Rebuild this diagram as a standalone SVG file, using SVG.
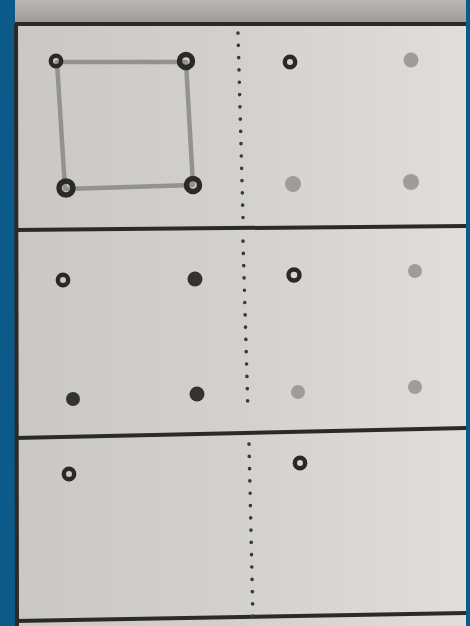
<svg xmlns="http://www.w3.org/2000/svg" width="470" height="626" viewBox="0 0 470 626">
<defs>
<linearGradient id="paper" x1="0" y1="0" x2="1" y2="0">
<stop offset="0" stop-color="#cac8c5"/>
<stop offset="0.5" stop-color="#d3d1ce"/>
<stop offset="1" stop-color="#e1deda"/>
</linearGradient>
<linearGradient id="strip" x1="0" y1="0" x2="0" y2="1">
<stop offset="0" stop-color="#b9b8b6"/>
<stop offset="1" stop-color="#9c9b99"/>
</linearGradient>
</defs>
<style>
.rule{stroke:#2b2a29;stroke-width:4;fill:none}
.dots{stroke:#3a3938;stroke-width:3.6;stroke-dasharray:0.1 12.2;stroke-linecap:round;fill:none}
.ring{fill:none;stroke:#2a2928;stroke-width:4.4}
.big{stroke-width:5.5}
.dark{fill:#343332}
.grey{fill:#9e9d9b}
.edge{stroke:#939290;stroke-width:4.5;fill:none;stroke-linejoin:round}
</style>
<rect width="470" height="626" fill="#0b5a8a"/>
<rect x="15" y="0" width="451" height="626" fill="url(#paper)"/>
<rect x="15" y="0" width="451" height="23" fill="url(#strip)"/>
<g id="rules">
<line class="rule" x1="15" y1="24" x2="466" y2="24"/>
<line class="rule" x1="15" y1="230" x2="466" y2="226"/>
<line class="rule" x1="15" y1="438" x2="466" y2="428"/>
<line class="rule" x1="15" y1="621" x2="466" y2="613"/>
<line class="rule" x1="16" y1="24" x2="17" y2="626" stroke-width="3"/>
</g>
<g id="dividers">
<line class="dots" x1="238" y1="33" x2="243" y2="218"/>
<line class="dots" x1="243" y1="241" x2="248" y2="413"/>
<line class="dots" x1="249" y1="444" x2="253" y2="620"/>
</g>
<g id="connectors">
<polygon class="edge" points="57,62 186,62 193,185 65,189"/>
</g>
<g id="panel1-left">
<circle class="ring" cx="56" cy="61" r="5.2"/>
<circle class="ring big" cx="186" cy="61" r="6.5"/>
<circle class="ring big" cx="66" cy="188" r="7"/>
<circle class="ring big" cx="193" cy="185" r="6.5"/>
</g>
<g id="panel1-right">
<circle class="ring" cx="290" cy="62" r="5.2"/>
<circle class="grey" cx="411" cy="60" r="7.5" fill="#a9a8a6"/>
<circle class="grey" cx="293" cy="184" r="8"/>
<circle class="grey" cx="411" cy="182" r="8"/>
</g>
<g id="panel2-left">
<circle class="ring" cx="63" cy="280" r="5.2"/>
<circle class="dark" cx="195" cy="279" r="7.5"/>
<circle class="dark" cx="73" cy="399" r="7"/>
<circle class="dark" cx="197" cy="394" r="7.5"/>
</g>
<g id="panel2-right">
<circle class="ring" cx="294" cy="275" r="5.5"/>
<circle class="grey" cx="415" cy="271" r="7"/>
<circle class="grey" cx="298" cy="392" r="7"/>
<circle class="grey" cx="415" cy="387" r="7"/>
</g>
<g id="panel3-left">
<circle class="ring" cx="69" cy="474" r="5.2"/>
</g>
<g id="panel3-right">
<circle class="ring" cx="300" cy="463" r="5.2"/>
</g>
</svg>
